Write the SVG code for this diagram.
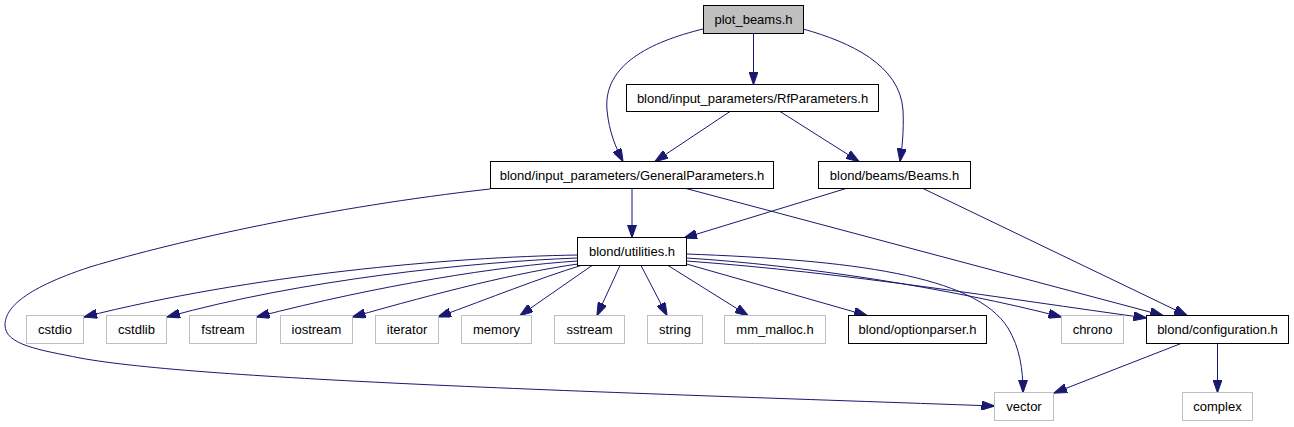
<svg xmlns="http://www.w3.org/2000/svg" width="1294" height="427" viewBox="0 0 1294 427">
<defs>
<marker id="ah" markerUnits="userSpaceOnUse" viewBox="0 0 13.3 9.3" markerWidth="13.3" markerHeight="9.3" refX="13" refY="4.65" orient="auto">
<path d="M0,0 L13.3,4.65 L0,9.3 z" fill="#191970" stroke="#191970" stroke-width="1"/>
</marker>
<style>
.e{fill:none;stroke:#191970;stroke-width:1;marker-end:url(#ah)}
.b{fill:#ffffff;stroke:#000000;stroke-width:1}
.g{fill:#ffffff;stroke:#bfbfbf;stroke-width:1}
.r{fill:#bfbfbf;stroke:#000000;stroke-width:1}
text{font-family:"Liberation Sans",Arial,Helvetica,sans-serif;font-size:13px;fill:#000000;text-anchor:middle}
</style>
</defs>
<rect width="1294" height="427" fill="#ffffff"/>
<g id="edges">
<path class="e" d="M753.5,33.5 L753.5,84.5"/>
<path class="e" d="M703,29 C650,42 603,65 607,110 C609,132 616,148 623,161.5"/>
<path class="e" d="M803,29 C850,42 900,65 903,110 C904,132 902,148 900,161.5"/>
<path class="e" d="M730,111.5 L655,161.5"/>
<path class="e" d="M780,111.5 L859,161.5"/>
<path class="e" d="M632,188.5 L632,237.5"/>
<path class="e" d="M846,188.5 L684,238"/>
<path class="e" d="M923,188.5 L1187,315.5"/>
<path class="e" d="M686,188.5 L1163,315.5"/>
<path class="e" d="M490,189 C330,207 180,240 90,267 C20,290 5,310 5,325 C5,345 40,350 80,358 C200,380 600,392 994.5,406"/>
<path class="e" d="M577.5,255 C450,257 250,275 84,317"/>
<path class="e" d="M577.5,258 C470,262 300,280 167,317"/>
<path class="e" d="M577.5,261 C500,266 380,285 256.5,317"/>
<path class="e" d="M578,264 C520,272 440,292 352.5,317"/>
<path class="e" d="M581,265.5 C540,278 490,298 438,317"/>
<path class="e" d="M592,265.5 L520,315.5"/>
<path class="e" d="M620,265.5 L597,315.5"/>
<path class="e" d="M641,265.5 L667,315.5"/>
<path class="e" d="M668,265.5 L748,315.5"/>
<path class="e" d="M686.5,264 L867,315.5"/>
<path class="e" d="M686.5,258 C800,265 950,288 1061.5,317"/>
<path class="e" d="M686.5,261 C850,273 1000,298 1146.5,318"/>
<path class="e" d="M686.5,254 C850,260 975,275 1008,328 C1020,348 1023,370 1023,392.5"/>
<path class="e" d="M1181,343.5 L1054,393"/>
<path class="e" d="M1217.5,343.5 L1217.5,392.5"/>
</g>
<g id="n_plot_beams"><rect class="r" x="703.5" y="5.5" width="100" height="28"/><text x="753.5" y="24">plot_beams.h</text></g>
<g id="n_rfparameters"><rect class="b" x="626.5" y="84.5" width="252" height="27"/><text x="752.5" y="102.5">blond/input_parameters/RfParameters.h</text></g>
<g id="n_generalparameters"><rect class="b" x="490.5" y="161.5" width="283" height="27"/><text x="632" y="179.5">blond/input_parameters/GeneralParameters.h</text></g>
<g id="n_beams"><rect class="b" x="818.5" y="161.5" width="152" height="27"/><text x="894.5" y="179.5">blond/beams/Beams.h</text></g>
<g id="n_utilities"><rect class="b" x="577.5" y="237.5" width="109" height="28"/><text x="632" y="256">blond/utilities.h</text></g>
<g id="n_cstdio"><rect class="g" x="26.5" y="315.5" width="57" height="28"/><text x="55" y="334">cstdio</text></g>
<g id="n_cstdlib"><rect class="g" x="106.5" y="315.5" width="60" height="28"/><text x="136.5" y="334">cstdlib</text></g>
<g id="n_fstream"><rect class="g" x="189.5" y="315.5" width="67" height="28"/><text x="223" y="334">fstream</text></g>
<g id="n_iostream"><rect class="g" x="280.5" y="315.5" width="72" height="28"/><text x="316.5" y="334">iostream</text></g>
<g id="n_iterator"><rect class="g" x="375.5" y="315.5" width="63" height="28"/><text x="407" y="334">iterator</text></g>
<g id="n_memory"><rect class="g" x="461.5" y="315.5" width="70" height="28"/><text x="496.5" y="334">memory</text></g>
<g id="n_sstream"><rect class="g" x="554.5" y="315.5" width="70" height="28"/><text x="589.5" y="334">sstream</text></g>
<g id="n_string"><rect class="g" x="647.5" y="315.5" width="55" height="28"/><text x="675" y="334">string</text></g>
<g id="n_mm_malloc"><rect class="g" x="724.5" y="315.5" width="101" height="28"/><text x="775" y="334">mm_malloc.h</text></g>
<g id="n_optionparser"><rect class="b" x="848.5" y="315.5" width="138" height="28"/><text x="917.5" y="334">blond/optionparser.h</text></g>
<g id="n_chrono"><rect class="g" x="1061.5" y="315.5" width="62" height="28"/><text x="1092.5" y="334">chrono</text></g>
<g id="n_configuration"><rect class="b" x="1146.5" y="315.5" width="142" height="28"/><text x="1217.5" y="334">blond/configuration.h</text></g>
<g id="n_vector"><rect class="g" x="994.5" y="392.5" width="59" height="28"/><text x="1024" y="411">vector</text></g>
<g id="n_complex"><rect class="g" x="1182.5" y="392.5" width="70" height="28"/><text x="1217.5" y="411">complex</text></g>
</svg>
